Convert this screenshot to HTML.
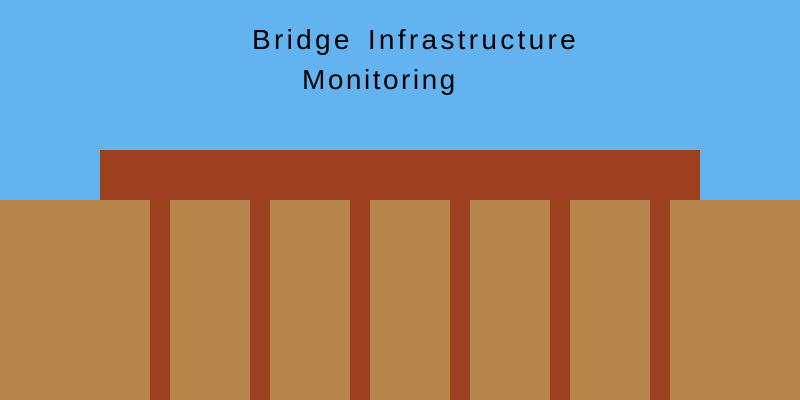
<!DOCTYPE html>
<html><head><meta charset="utf-8"><style>
html,body{margin:0;padding:0}
body{width:800px;height:400px;position:relative;overflow:hidden;background:#62b3ef;font-family:"Liberation Sans",sans-serif}
div{position:absolute}
.p{top:200px;width:20px;height:200px;background:#9c401f}
.t{color:#000;font-size:28px;white-space:nowrap;letter-spacing:2.5px;word-spacing:4px}
</style></head><body>
<div style="left:0;top:200px;width:800px;height:200px;background:#b5854b"></div>
<div style="left:100px;top:150px;width:600px;height:50px;background:#9c401f"></div>
<div class="p" style="left:150px"></div>
<div class="p" style="left:250px"></div>
<div class="p" style="left:350px"></div>
<div class="p" style="left:450px"></div>
<div class="p" style="left:550px"></div>
<div class="p" style="left:650px"></div>
<div class="t" style="left:252px;top:24px;letter-spacing:3.3px">Bridge Infrastructure</div>
<div class="t" style="left:302px;top:64px">Monitoring</div>
</body></html>
